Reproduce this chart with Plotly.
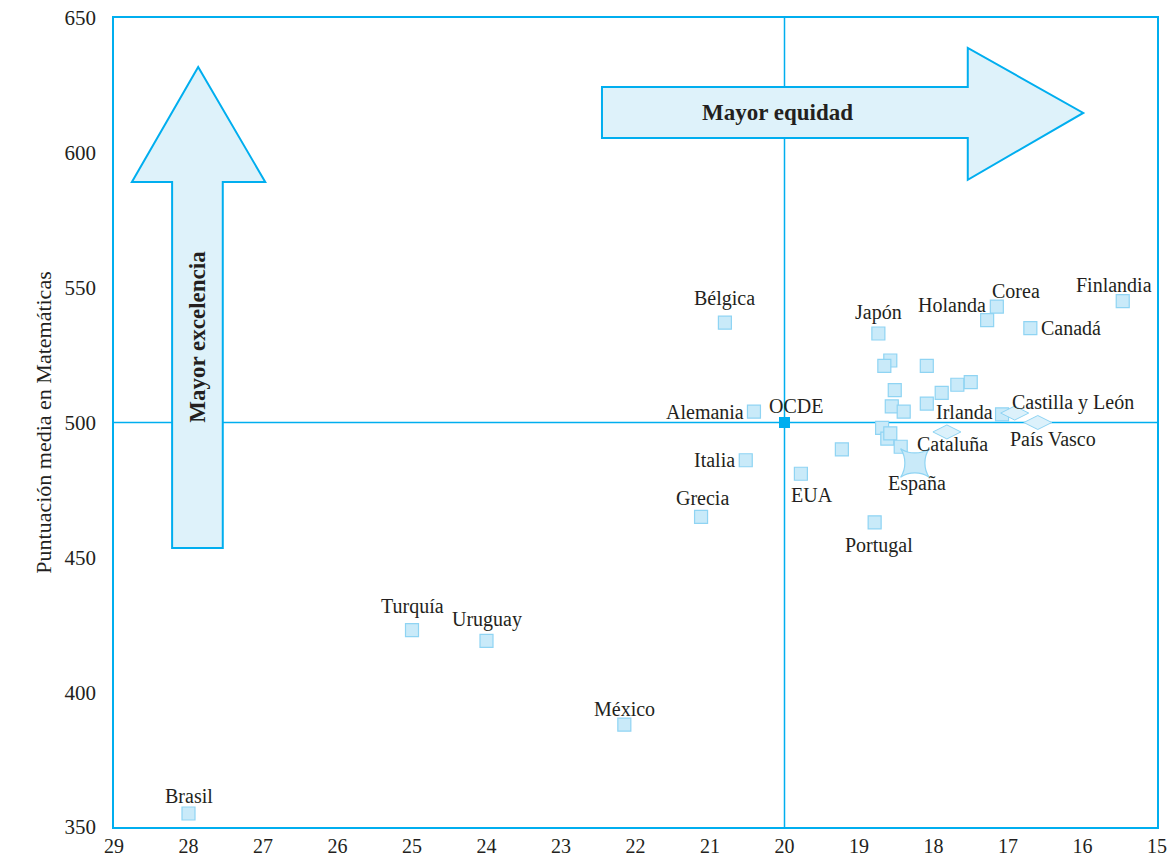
import plotly.graph_objects as go

# ---- data ----
names = ["Brasil", "Turquía", "Uruguay", "México", "Grecia", "Italia", "Alemania",
         "Bélgica", "EUA", "Portugal", "Japón", "Holanda", "Corea", "Canadá",
         "Finlandia", "Irlanda", "", "", "", "", "", "", "", "", "", "", "", "", ""]
equity = [28.0, 25.0, 24.0, 22.15, 21.12, 20.52, 20.41,
          20.8, 19.78, 18.79, 18.74, 17.28, 17.15, 16.7,
          15.46, 17.08, 19.23, 18.58, 18.66, 18.09, 18.52, 17.68, 17.5, 17.89,
          18.56, 18.09, 18.4, 18.69, 18.62]
score = [355, 423, 419, 388, 465, 486, 504,
         537, 481, 463, 533, 538, 543, 535,
         545, 503, 490, 523, 521, 521, 512, 514, 515, 511,
         506, 507, 504, 498, 494]
extra_x = [18.58, 18.44]
extra_y = [496, 491]

region_names = ["Cataluña", "Castilla y León", "País Vasco"]
region_x = [17.82, 16.91, 16.6]
region_y = [496.5, 503.5, 500]

spain_name = "España"
spain_x = [18.25]
spain_y = [485]

oecd_name = "OCDE"
oecd_x = [20.0]
oecd_y = [500.0]

x_ticks = list(range(29, 14, -1))
y_ticks = [350, 400, 450, 500, 550, 600, 650]

# label placement (pixel offsets relative to marker)
label_pos = {
    "Brasil": (0, 18, "center"), "Turquía": (0, 24, "center"), "Uruguay": (0, 21, "center"),
    "México": (0, 16, "center"), "Grecia": (1, 19, "center"), "Italia": (-9, 0, "right"),
    "Alemania": (-8, 0, "right"), "Bélgica": (0, 24, "center"), "EUA": (11, -21, "center"),
    "Portugal": (4, -23, "center"), "Japón": (0, 21, "center"), "Holanda": (1, 15, "right"),
    "Corea": (19, 16, "center"), "Canadá": (9, 0, "left"), "Finlandia": (-9, 16, "center"),
    "Irlanda": (-7, 2, "right"), "Cataluña": (-32, -12, "left"), "Castilla y León": (-5, 11, "left"),
    "País Vasco": (-30, -16, "left"), "España": (2, -21, "center"), "OCDE": (11, 17, "center"),
}

BLUE = "#00aeef"
FILL = "#c9eaf9"
EDGE = "#8fd4f3"
TXT = "#231f20"
FONT = "Liberation Serif"

fig = go.Figure()

# reference lines
fig.add_shape(type="line", x0=20, x1=20, y0=350, y1=650, line=dict(color=BLUE, width=1.5), layer="below")
fig.add_shape(type="line", x0=29, x1=15, y0=500, y1=500, line=dict(color=BLUE, width=1.5), layer="below")

# arrows (decoration)
varrow = "M 28.22 453.5 L 28.22 589.2 L 28.76 589.2 L 27.87 631.8 L 26.97 589.2 L 27.54 589.2 L 27.54 453.5 Z"
harrow = "M 22.45 624.4 L 17.54 624.4 L 17.54 638.9 L 15.99 614.8 L 17.54 590 L 17.54 605.5 L 22.45 605.5 Z"
for p in (varrow, harrow):
    fig.add_shape(type="path", path=p, fillcolor="#def2fa", line=dict(color=BLUE, width=2), layer="above")

fig.add_trace(go.Scatter(x=equity + extra_x, y=score + extra_y, mode="markers",
                         marker=dict(symbol="square", size=13, color=FILL, line=dict(color=EDGE, width=1.2)),
                         hoverinfo="skip", showlegend=False))
fig.add_trace(go.Scatter(x=region_x, y=region_y, mode="markers",
                         marker=dict(symbol="diamond-wide", size=20, color="#dcf1fb", line=dict(color=EDGE, width=1)),
                         showlegend=False))
fig.add_trace(go.Scatter(x=spain_x, y=spain_y, mode="markers",
                         marker=dict(symbol="star-square", size=26, color=FILL, line=dict(color=EDGE, width=1.2)),
                         showlegend=False))
fig.add_trace(go.Scatter(x=oecd_x, y=oecd_y, mode="markers",
                         marker=dict(symbol="square", size=11, color=BLUE, line=dict(width=0)),
                         showlegend=False))

all_names = names + region_names + [spain_name, oecd_name]
all_x = equity + region_x + spain_x + oecd_x
all_y = score + region_y + spain_y + oecd_y
for n, xv, yv in zip(all_names, all_x, all_y):
    if not n:
        continue
    dx, dy, al = label_pos[n]
    fig.add_annotation(x=xv, y=yv, text=n, showarrow=False, xshift=dx, yshift=dy,
                       xanchor=al, yanchor="middle", font=dict(family=FONT, size=20, color=TXT))

fig.add_annotation(x=(22.45 + 17.54) / 2 + 0.1, y=614.8, text="<b>Mayor equidad</b>", showarrow=False,
                   font=dict(family=FONT, size=23, color=TXT))
fig.add_annotation(x=27.88, y=532, text="<b>Mayor excelencia</b>", showarrow=False, textangle=-90,
                   font=dict(family=FONT, size=23, color=TXT))

fig.update_layout(
    width=1173, height=860,
    margin=dict(l=114, r=16, t=18, b=33),
    paper_bgcolor="white", plot_bgcolor="white",
    font=dict(family=FONT, size=20, color=TXT),
    showlegend=False,
    hovermode=False,
)
fig.update_xaxes(range=[29, 15], tickvals=x_ticks, ticktext=[str(t) for t in x_ticks], automargin=False,
                 showgrid=False, zeroline=False, showline=True, mirror=True, linecolor=BLUE, linewidth=1.5,
                 ticks="", ticklabelstandoff=0, ticklabeloverflow="allow",
                 tickfont=dict(family=FONT, size=20, color=TXT))
fig.update_yaxes(range=[350, 650], tickvals=y_ticks, showgrid=False, zeroline=False, showline=True, mirror=True,
                 automargin=False, linecolor=BLUE, linewidth=1.5, ticks="", ticklabelstandoff=12,
                 ticklabeloverflow="allow",
                 tickfont=dict(family=FONT, size=21, color=TXT),
                 title=dict(text="Puntuación media en Matemáticas", font=dict(family=FONT, size=22, color=TXT),
                            standoff=7))

# remove the default page margin so the figure sits at the window origin
fig.write_html("out.html", config={"displayModeBar": False},
               post_script="document.body.style.margin='0';document.body.style.overflow='hidden';")
